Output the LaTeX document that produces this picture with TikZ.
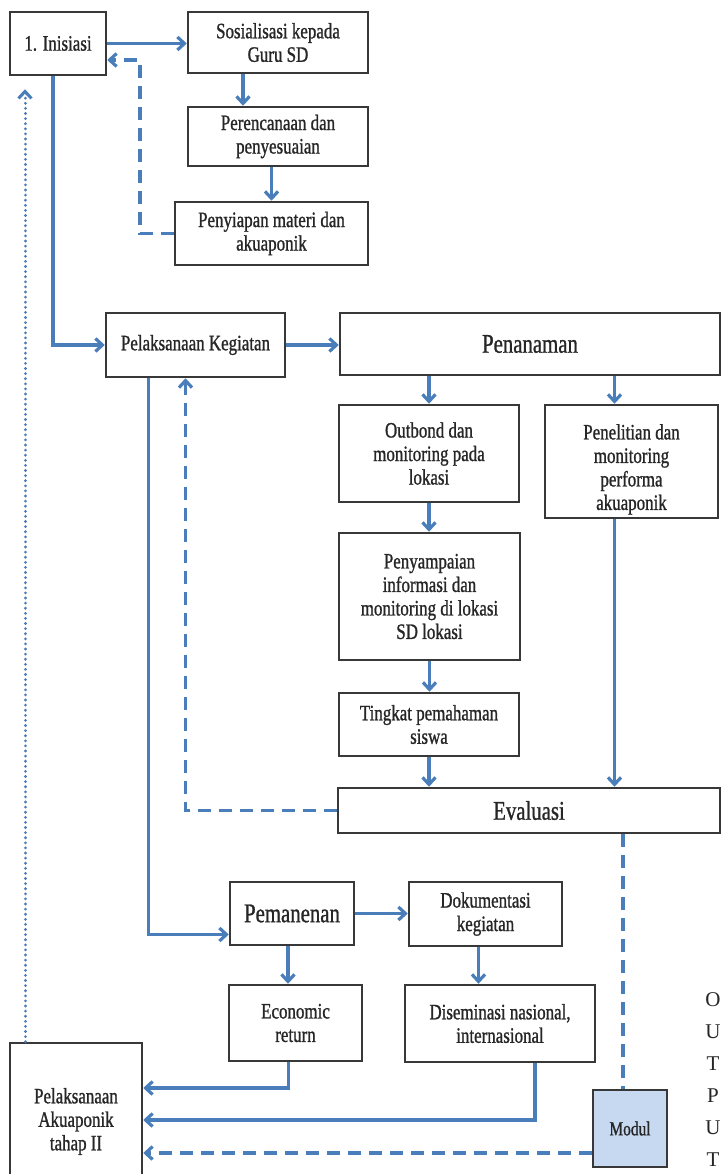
\documentclass[tikz,border=0pt]{standalone}
\usepackage{fontspec}
\setmainfont{Liberation Serif}[FakeStretch=0.77, FakeBold=1]
\newfontfamily\outputfont{Liberation Serif}
\usepackage{tikz}
\usetikzlibrary{arrows.meta}

\definecolor{lineblue}{HTML}{4A7EBB}
\definecolor{boxline}{HTML}{383838}
\definecolor{modulfill}{HTML}{C6D9F1}

\begin{document}
\begin{tikzpicture}[x=1pt, y=-1pt, >={Straight Barb[length=7pt, width=13pt]},
  box/.style={draw=boxline, line width=2.5pt, align=center, text=black!85, inner sep=2pt, font=\fontsize{22}{23.5}\selectfont},
  bigtext/.style={font=\fontsize{27}{29}\selectfont},
  flow/.style={draw=lineblue, line width=3.2pt, ->},
  back/.style={draw=lineblue, line width=3.2pt, dash pattern=on 13pt off 8pt, ->},
  dots/.style={draw=lineblue, line width=3pt, line cap=round, dash pattern=on 0.1pt off 5pt, ->}]
\useasboundingbox (0,0) rectangle (721,1174);
\node[box, minimum width=96, minimum height=63] (inisiasi) at (58,43.5) {1. Inisiasi};
\node[box, minimum width=180, minimum height=61] (sosialisasi) at (278,42.5) {Sosialisasi kepada\\Guru SD};
\node[box, minimum width=180, minimum height=59] (perencanaan) at (278,136.5) {Perencanaan dan\\penyesuaian};
\node[box, minimum width=193, minimum height=63] (penyiapan) at (271.5,233.5) {Penyiapan materi dan\\akuaponik};
\node[box, minimum width=179, minimum height=64] (pelaksanaan) at (195.5,345) {Pelaksanaan Kegiatan};
\node[box, bigtext, minimum width=380, minimum height=62] (penanaman) at (530,344) {Penanaman};
\node[box, minimum width=180, minimum height=97] (outbond) at (429,453.5) {Outbond dan\\monitoring pada\\lokasi};
\node[box, minimum width=173, minimum height=113] (penelitian) at (631.5,461.5) {\rule{0pt}{31pt}Penelitian dan\\monitoring\\performa\\akuaponik};
\node[box, minimum width=181, minimum height=127] (penyampaian) at (429.5,596.5) {Penyampaian\\informasi dan\\monitoring di lokasi\\SD lokasi};
\node[box, minimum width=180, minimum height=63] (tingkat) at (429,724.5) {Tingkat pemahaman\\siswa};
\node[box, bigtext, minimum width=382, minimum height=45] (evaluasi) at (529,810.5) {Evaluasi};
\node[box, bigtext, minimum width=124, minimum height=63] (pemanenan) at (292,913.5) {Pemanenan};
\node[box, minimum width=153, minimum height=64] (dokumentasi) at (485.5,914) {Dokumentasi\\kegiatan};
\node[box, minimum width=133, minimum height=76] (economic) at (295.5,1023) {Economic\\return};
\node[box, minimum width=190, minimum height=77] (diseminasi) at (500,1023.5) {Diseminasi nasional,\\internasional};
\node[box, minimum width=132, minimum height=157] (akuaponik) at (76,1121.5) {Pelaksanaan\\Akuaponik\\tahap II};
\node[box, fill=modulfill, font=\fontsize{20}{22}\selectfont, minimum width=74, minimum height=77] (modul) at (630,1128.5) {Modul};
\node[align=center, font=\outputfont\fontsize{21}{32}\selectfont, text=black!85, inner sep=0pt] (output) at (713,1080) {O\\U\\T\\P\\U\\T};
\coordinate (backtop) at (140,60);
\draw[flow] (inisiasi.east) -- (inisiasi.east -| sosialisasi.west);
\draw[back] (penyiapan.west) -| (backtop) -- (backtop -| inisiasi.east);
\draw[flow] ([xshift=-35pt]sosialisasi.south) -- ([xshift=-35pt]sosialisasi.south |- perencanaan.north);
\draw[flow] (perencanaan.south -| penyiapan.north) -- (penyiapan.north);
\draw[flow] ([xshift=-5pt]inisiasi.south) |- (pelaksanaan.west);
\draw[flow] (pelaksanaan.east) -- (pelaksanaan.east -| penanaman.west);
\draw[flow] (penanaman.south -| outbond.north) -- (outbond.north);
\draw[flow] ([xshift=-17pt]penelitian.north |- penanaman.south) -- ([xshift=-17pt]penelitian.north);
\draw[flow] (outbond.south) -- (outbond.south |- penyampaian.north);
\draw[flow] (penyampaian.south) -- (penyampaian.south |- tingkat.north);
\draw[flow] (tingkat.south) -- (tingkat.south |- evaluasi.north);
\draw[flow] ([xshift=-17pt]penelitian.south) -- ([xshift=-17pt]penelitian.south |- evaluasi.north);
\draw[back] (evaluasi.west) -| ([xshift=-10pt]pelaksanaan.south);
\draw[flow] ([xshift=-47pt]pelaksanaan.south) |- ([yshift=-21pt]pemanenan.west);
\draw[flow] (pemanenan.east) -- (pemanenan.east -| dokumentasi.west);
\draw[flow] ([xshift=-4pt]pemanenan.south) -- ([xshift=-4pt]pemanenan.south |- economic.north);
\draw[flow] ([xshift=-7pt]dokumentasi.south) -- ([xshift=-7pt]dokumentasi.south |- diseminasi.north);
\draw[flow] ([xshift=-7pt]economic.south) |- ([yshift=33.5pt]akuaponik.east);
\draw[flow] ([xshift=35pt]diseminasi.south) |- ([yshift=1.5pt]akuaponik.east);
\draw[back, -] ([xshift=-7pt]modul.north |- evaluasi.south) -- ([xshift=-7pt]modul.north);
\draw[back] ([yshift=-24.5pt]modul.west) -- ([yshift=-24.5pt]modul.west -| akuaponik.east);
\draw[dots] ([xshift=-51pt]akuaponik.north) -- ([xshift=-33pt,yshift=-13pt]inisiasi.south);
\end{tikzpicture}
\end{document}
